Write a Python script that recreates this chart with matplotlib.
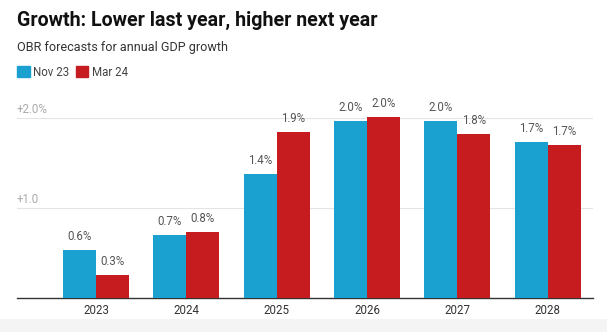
import matplotlib.pyplot as plt
from matplotlib.patches import Patch, Rectangle
import matplotlib.transforms as mtransforms
import numpy as np

plt.rcParams['font.family'] = ['Roboto', 'DejaVu Sans']

years = ['2023', '2024', '2025', '2026', '2027', '2028']
nov23 = [0.53, 0.70, 1.38, 1.97, 1.97, 1.73]
mar24 = [0.26, 0.73, 1.84, 2.01, 1.82, 1.70]
nov23_labels = ['0.6%', '0.7%', '1.4%', '2.0%', '2.0%', '1.7%']
mar24_labels = ['0.3%', '0.8%', '1.9%', '2.0%', '1.8%', '1.7%']
grid_values = [1.0, 2.0]
grid_labels = ['+1.0', '+2.0%']

blue = '#1ba1cf'
red = '#c71c1f'

W, H = 607, 332
fig = plt.figure(figsize=(W / 100, H / 100), dpi=100)

# light grey band at the bottom
fig.patches.append(Rectangle((0, 0), 1, 13 / H, transform=fig.transFigure,
                             facecolor='#f4f4f4', edgecolor='none', zorder=-10))

ax = fig.add_axes([17 / W, 1 - 298 / H, 576 / W, 200 / H])
ax.set_facecolor('none')

x = np.arange(len(years))
w = 0.365
b1 = ax.bar(x - w / 2, nov23, w, color=blue, zorder=3)
b2 = ax.bar(x + w / 2, mar24, w, color=red, zorder=3)

for bars, labels in ((b1, nov23_labels), (b2, mar24_labels)):
    for bar, lab in zip(bars, labels):
        ax.annotate(lab, (bar.get_x() + bar.get_width() / 2, bar.get_height()),
                    xytext=(0, 5), textcoords='offset points',
                    ha='center', va='bottom', fontsize=8.3, color='#555555')

ax.set_xlim(-0.874, 5.5)
ax.set_ylim(0, 200 / 90)

trans = mtransforms.blended_transform_factory(ax.transAxes, ax.transData)
for v, lab in zip(grid_values, grid_labels):
    ax.axhline(v, color='#e4e4e4', lw=0.8, zorder=1)
    ax.text(0, v + 0.02, lab, transform=trans, ha='left', va='bottom',
            fontsize=8.3, color='#aaaaaa')

ax.set_yticks([])
ax.set_xticks(x)
ax.set_xticklabels(years, fontsize=8.3, color='#333333')
ax.tick_params(axis='x', length=0, pad=4)
for s in ['top', 'right', 'left']:
    ax.spines[s].set_visible(False)
ax.spines['bottom'].set_color('#333333')
ax.spines['bottom'].set_linewidth(1.0)

fig.text(17 / W, 1 - 20 / H, 'Growth: Lower last year, higher next year',
         fontsize=14.1, fontweight='bold', color='#111111', va='center', ha='left')
fig.text(17 / W, 1 - 48 / H, 'OBR forecasts for annual GDP growth',
         fontsize=9.1, color='#333333', va='center', ha='left')

handles = [Patch(color=blue, label='Nov 23'), Patch(color=red, label='Mar 24')]
leg = fig.legend(handles=handles, loc='center left', bbox_to_anchor=(17 / W, 1 - 72 / H),
                 ncol=2, frameon=False, fontsize=8.3, handlelength=1.1, handleheight=1.1,
                 handletextpad=0.3, columnspacing=0.55, borderpad=0, borderaxespad=0)
for t in leg.get_texts():
    t.set_color('#444444')

fig.savefig('out.png', dpi=100)
